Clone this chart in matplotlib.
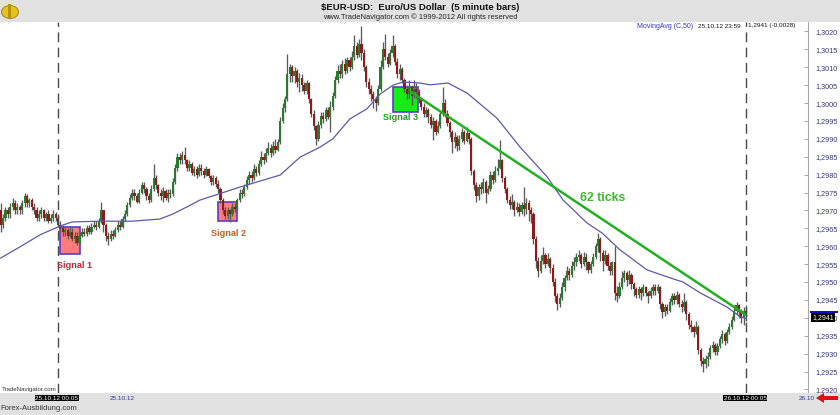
import numpy as np
import matplotlib
matplotlib.use("Agg")
import matplotlib.pyplot as plt
from matplotlib.patches import Rectangle, Polygon, Ellipse

plt.rcParams['font.family'] = ['Liberation Sans', 'DejaVu Sans']

# ---------------- data (prices in pips above BASE) ----------------
BASE = 1.2900
PIP = 0.0001

O = [70,66,68,70,69,71,72,70,71,70,
     72,74,72,73,71,70,68,69,70,68,
     69,67,68,69,68,66,65,64,64.5,63,
     64,62,63,61,63,64,63.5,65,64,65.5,
     66,65.5,67,70,66,63,62,63.5,63,64.5,
     66,65.5,67.5,69,71.5,73.5,75,74,72.5,75,
     77,76,74,73,76,79,77,75,74,75.5,
     73.5,75,74.5,78,82,85,84,85.5,84,82,
     83,80.5,81.5,80,82,81,80,81.5,79.5,78,
     79,77.5,76,73,70,68.5,70,69,71,70.5,
     73,75,74.5,76.5,78.5,80,79,81.5,80.5,83,
     85,84,86,87.5,86,88,87,89,95,98.5,
     101,108,110,107.5,109,106,107,105,103.5,105.5,
     101,97,93.5,90,94,96.5,95.5,98,96,99,
     102,106.5,109,108,111,109,112,110,113,116,
     113.5,116.5,114,110,106,104,102.5,101,100,104,
     110,115,113,111,114,116,111.5,108,109.5,106.5,
     104,102.5,104.5,102,104,103,101,99,97,98,
     96,94,95,92,93.5,97,100,97,94.5,92,
     89,90.5,88,90,92,89.5,91.5,90,81,77,
     74,76.5,76,78,75,76,80,78.5,81,82,
     84,79,76,73,71.5,72.5,70,71,69.5,71.5,
     70.5,72,70,69,62,56,53,56,57.5,55,
     56.5,54,50,46,44,45.5,48.5,51,53,52,
     54.5,55.5,57,57.5,55,57,55.5,53.5,55,57,
     60,62,58,56,57.5,54.5,53,55.5,47,46,
     48.5,51,52.5,50.5,52,49.5,48,46.5,48,47,
     48.5,47,46,47.5,48.5,47.5,48.5,44,41.5,43,
     42,44.5,46,45,46.5,44,43,44.5,41,38,
     37.5,36,37.5,31,28,27,28.5,29,31.5,32.5,
     30.5,32,34,35.5,33.5,36,37.5,39.5,42,43.5,
     41.5,40,42]

C = [66,68,70,69,71,72,70,71,70,72,
     74,72,73,71,70,68,69,70,68,69,
     67,68,69,68,66,65,64,64.5,63,64,
     62,63,61,63,64,63.5,65,64,65.5,66,
     65.5,67,70,66,63,62,63.5,63,64.5,66,
     65.5,67.5,69,71.5,73.5,75,74,72.5,75,77,
     76,74,73,76,79,77,75,74,75.5,73.5,
     75,74.5,78,82,85,84,85.5,84,82,83,
     80.5,81.5,80,82,81,80,81.5,79.5,78,79,
     77.5,76,73,70,68.5,70,69,71,70.5,73,
     75,74.5,76.5,78.5,80,79,81.5,80.5,83,85,
     84,86,87.5,86,88,87,89,95,98.5,101,
     108,110,107.5,109,106,107,105,103.5,105.5,101,
     97,93.5,90,94,96.5,95.5,98,96,99,102,
     106.5,109,108,111,109,112,110,113,116,113.5,
     116.5,114,110,106,104,102.5,101,100,104,110,
     115,113,111,114,116,111.5,108,109.5,106.5,104,
     102.5,104.5,102,104,103,101,99,97,98,96,
     94,95,92,93.5,97,100,97,94.5,92,89,
     90.5,88,90,92,89.5,91.5,90,81,77,74,
     76.5,76,78,75,76,80,78.5,81,82,84,
     79,76,73,71.5,72.5,70,71,69.5,71.5,70.5,
     72,70,69,62,56,53,56,57.5,55,56.5,
     54,50,46,44,45.5,48.5,51,53,52,54.5,
     55.5,57,57.5,55,57,55.5,53.5,55,57,60,
     62,58,56,57.5,54.5,53,55.5,47,46,48.5,
     51,52.5,50.5,52,49.5,48,46.5,48,47,48.5,
     47,46,47.5,48.5,47.5,48.5,44,41.5,43,42,
     44.5,46,45,46.5,44,43,44.5,41,38,37.5,
     36,37.5,31,28,27,28.5,29,31.5,32.5,30.5,
     32,34,35.5,33.5,36,37.5,39.5,42,43.5,41.5,
     40,42,41]

H = [72,69,71,71,72,73.5,73,72,71.5,73,
     75,74.5,73.5,73.5,72,71,70,71,70.5,69.5,
     70,69,70,69.5,69,67,66,65.5,65,65.5,
     65,64,64,64,65,65,66,66,66.5,67,
     67,68,72.4,70,66.5,64,64.5,64.5,65.5,67,
     67,68.5,70,72.5,74.5,76,76,75,76,78,
     78,76.5,75,77,83,80,77.5,76,76.5,76,
     76,76,79,83,86,86,86.5,87.7,84.5,84,
     83.5,82.5,82.5,83,83,82,82.5,82,80,80,
     79.5,78.5,76.5,73.5,71,71,70.5,72,72,73.5,
     76,76,77.5,79.5,81,81,83,82.5,84,86.5,
     86,87.5,89,88.5,89.5,90,90,96,100,102,
     113.7,111,110.5,110,109.5,108.5,108,106,106.5,106,
     101.5,98,94,95,97.5,97.5,99,99,100.5,103,
     107.5,110.5,111,112,112.5,113,113,114.5,119,117,
     118,121.5,115,110.5,107,105,103.5,102,105,112,
     117,119.3,114,115,119,116.5,112.5,111,110,107,
     105,106.5,105,106.5,105.5,104,101.5,100,99,98.5,
     97,96,95.5,95,98,104.5,101,98,95,92.5,
     92,91,91,93,92.5,93.3,92,90.5,81.5,78,
     77.5,78,79,78.5,77,81,81,82.5,84.5,89.7,
     84.5,79.5,76.5,74,74.5,73,72.5,72,72.5,76.5,
     73.5,73,71,69.5,63,57,57.5,59.8,58,58,
     57,55,51,47,47,50,52,54.5,54,56,
     57,58,59,58,58.5,58,56,56,58,61,
     63.7,62.5,59,59,58,55.5,56,60,49,50,
     53,53.5,53,53.4,52.5,50,48.5,49,48.6,49.5,
     49,47.5,48.5,49.5,49.5,49.5,49,44.5,44,44,
     45.5,47,47,47.5,47,45,47,45,41.5,39.4,
     38,39,38,31.5,29,29.5,30.5,32.5,33.5,33,
     33,35,36.6,36,37,38.5,40.5,43.5,44.5,44,
     42.5,43,43.5]

L = [64,65,67,68,68,70,69,69,69,69,
     71,71,71,70,69,67,67,68,67,67,
     66.5,66.5,67,67,65.5,64,63,63,62,62.5,
     61.5,61,60.4,60.5,62.5,63,63,63.5,63.5,65,
     64.5,65,66.5,64,61.5,60.4,61.5,62,62.5,64,
     64.5,65,67,68.5,71,73,73,72,72,74.5,
     75,73,72,72.5,75.5,76,74,73,72.5,73,
     72.5,73.5,74,77.5,81,83,83,83,81,81,
     80,79.5,79,79.5,80,79,79.5,79,77,77,
     76.5,75,72,69,67.5,67.5,66.9,68.5,69.5,70,
     72.5,73.5,74,76,77.5,78,78.5,79.5,80,82.5,
     83,83.5,85.5,85,85.5,86,86.5,88.5,94.5,97.5,
     100.5,106,106,105.5,104.5,103,103.5,102.5,102.5,100,
     96,92.5,88.3,89.5,93,94.5,95,95.5,92,98,
     101.5,105.5,107,107,108,108.5,109,109.5,112,112.5,
     113,112,109,104.5,102.5,100.5,98.5,97.8,99.5,103.5,
     109.5,112,110,110.5,113,110.5,107,106.5,105.5,103,
     101,101.5,99.5,101.5,101.5,100,98,96,96,94.5,
     93,89.7,91,91.5,93,96.5,96,93.5,90.5,86,
     87.5,86.5,87,89,88.5,89,88.5,80,75.7,72.5,
     73,74.5,75,72,74.5,75.5,77.5,78,80,81.5,
     78,75,72,70.5,70.5,68.5,69.5,68.5,69,68.5,
     69,67,66.5,60.5,54,51.5,52.5,55,54,54.5,
     52.5,49,44.5,42.2,43,45,47.5,50.5,50.5,51.5,
     53.5,54.5,56,54,54.5,53.5,52.5,52.5,54.5,56.5,
     58.5,56,53,55,53.5,52,52,45,44.5,45.5,
     48,50,49,49.5,48,46,45.5,45.5,45,46,
     46,44.2,45.5,46.5,46.5,47,42.5,40,40.5,41,
     41.5,43.5,44,44,43,41.5,42,39.5,37,36,
     34.7,35.5,30,26.5,24.9,26,26.5,28.5,30.5,29.5,
     29.5,31.5,33,32.5,33,35.5,37,39,41,40,
     38.5,38,39]

# Moving average (C,50): bar index / value (pips)
MA_IDX = [0, 8, 16.5, 25, 30, 41.6, 55, 66.7, 72, 78, 83.4, 100, 117, 125.3,
          133.7, 139, 146.2, 153.3, 158.8, 164.2, 168.4, 175.5, 179.7, 187.2,
          195.2, 207.7, 217.4, 228.7, 235.4, 245.4, 251.7, 259.2, 270.5, 281.4,
          285.6, 292.7, 304, 309.5, 312]
MA_VAL = [56.7, 59.8, 63.2, 65.7, 66.8, 67.0, 67.0, 67.6, 69.0, 71, 72.9, 76.5,
          79.9, 84.9, 87.7, 90, 95.6, 98.4, 102.5, 105, 105.9, 105.6, 105.1,
          105.6, 102.8, 95.8, 87.7, 79.4, 72.9, 66.5, 63.7, 59, 53.4, 50.9, 50,
          47, 43, 40.3, 39.8]

# trend line (62 ticks)
TREND_IDX = [172, 311.5]
TREND_PRICE = [1.3003, 1.2941]

# signal boxes
SIG_NAMES = ["Signal 1", "Signal 2", "Signal 3"]
SIG_X0 = [24.8, 91.1, 164.1]
SIG_X1 = [33.2, 99.0, 174.8]
SIG_LO = [57.8, 67.0, 97.6]
SIG_HI = [65.5, 72.4, 104.4]

DAY_LINES = [24, 312]
YTICKS = [1.2920 + 0.0005 * k for k in range(21)]
LAST_PRICE = 1.2941

# ---------------- figure ----------------
FW, FH = 840, 415
def fx(px):
    return px / FW
def fy(py):
    return 1 - py / FH

fig = plt.figure(figsize=(8.4, 4.15), dpi=100)
fig.patch.set_facecolor('white')
fig.patches.append(Rectangle((0, fy(22)), 1, 22 / FH, transform=fig.transFigure,
                             facecolor='#e1e1e1', edgecolor='none', zorder=0))
fig.patches.append(Rectangle((0, 0), 1, 22 / FH, transform=fig.transFigure,
                             facecolor='#e1e1e1', edgecolor='none', zorder=0))
# small logo
fig.patches.append(Ellipse((fx(10), fy(12)), 17 / FW, 13 / FH, transform=fig.transFigure,
                           facecolor='#e6c21e', edgecolor='#9a7a10', lw=0.6, zorder=1))
fig.patches.append(Rectangle((fx(8), fy(18)), 3 / FW, 14 / FH, transform=fig.transFigure,
                             facecolor='#b8920e', edgecolor='none', zorder=2))

ax = fig.add_axes([0, 22 / FH, 808 / FW, 371 / FH])
ax.set_facecolor('white')
ax.set_xlim(-0.29, 337.9)
ax.set_ylim(BASE + 19.0 * PIP, BASE + 122.65 * PIP)

o = BASE + np.array(O) * PIP
c = BASE + np.array(C) * PIP
h = BASE + np.array(H) * PIP
l = BASE + np.array(L) * PIP
x = np.arange(len(C))
up = c >= o
bb = np.minimum(o, c)
bh = np.maximum(np.abs(c - o), 0.3 * PIP)

ax.vlines(x, l, h, color='#5a5a5a', lw=0.95, zorder=3)
ax.bar(x[up], bh[up], bottom=bb[up], width=0.9, color='#2a7a2e', linewidth=0, zorder=4)
ax.bar(x[~up], bh[~up], bottom=bb[~up], width=0.9, color='#8e1a1a', linewidth=0, zorder=4)

# signal boxes
fills = ['#ff7c7c', '#ff7c7c', '#14ee14']
for i in range(3):
    ax.add_patch(Rectangle((SIG_X0[i], BASE + SIG_LO[i] * PIP), SIG_X1[i] - SIG_X0[i],
                           (SIG_HI[i] - SIG_LO[i]) * PIP, facecolor=fills[i],
                           edgecolor='#5a3cc8', lw=1.2, zorder=2))

# moving average
ax.plot(MA_IDX, BASE + np.array(MA_VAL) * PIP, color='#5a5aaa', lw=0.9, zorder=5)
# trend line
ax.plot(TREND_IDX, TREND_PRICE, color='#22b022', lw=1.8, zorder=6)

for d in DAY_LINES:
    ax.axvline(d, color='#4a4a4a', lw=1.0, ls=(0, (7, 4)), zorder=6)

ax.set_xticks([])
ax.yaxis.tick_right()
ax.set_yticks(YTICKS)
ax.set_yticklabels([f"{v:.4f}".replace('.', ',') for v in YTICKS])
ax.tick_params(axis='y', direction='in', length=3, width=0.6, colors='#9a9a9a',
               labelcolor='#353575', labelsize=5.2, pad=5)
for s in ['left', 'top', 'bottom']:
    ax.spines[s].set_visible(False)
ax.spines['right'].set_color('#a8a8a8')
ax.spines['right'].set_linewidth(0.8)

# ---------------- texts ----------------
fig.text(fx(420), fy(8), "$EUR-USD:  Euro/US Dollar  (5 minute bars)", ha='center',
         va='center', fontsize=6.8, fontweight='bold', color='#111111')
fig.text(fx(420), fy(17), "www.TradeNavigator.com \u00a9 1999-2012 All rights reserved",
         ha='center', va='center', fontsize=5.4, color='#222222')

fig.text(fx(637), fy(26), "MovingAvg (C,50)", ha='left', va='center', fontsize=5,
         color='#3535c8')
fig.text(fx(698), fy(26), "25.10.12 23:59", ha='left', va='center', fontsize=4.6,
         color='#111111')
fig.text(fx(748), fy(26), "1,2941 (-0,0028)", ha='left', va='center', fontsize=4.6,
         color='#111111')

fig.text(fx(75), fy(265), SIG_NAMES[0], ha='center', va='center', fontsize=6.6,
         fontweight='bold', color='#c0283a')
fig.text(fx(229), fy(233), SIG_NAMES[1], ha='center', va='center', fontsize=6.6,
         fontweight='bold', color='#c4602a')
fig.text(fx(401), fy(118), SIG_NAMES[2], ha='center', va='center', fontsize=6.6,
         fontweight='bold', color='#229a22')
fig.text(fx(603), fy(198), "62 ticks", ha='center', va='center', fontsize=8.8,
         fontweight='bold', color='#3cba2c')

fig.text(fx(2), fy(389), "TradeNavigator.com", ha='left', va='center', fontsize=4.4,
         color='#333333')
fig.text(fx(0), fy(408), "Forex-Ausbildung.com", ha='left', va='center', fontsize=5.5,
         color='#333333')

fig.text(fx(57), fy(398), "25.10.12 00:05", ha='center', va='center', fontsize=4.6,
         color='white', bbox=dict(boxstyle='square,pad=0.15', fc='black', ec='none'))
fig.text(fx(122), fy(398), "25.10.12", ha='center', va='center', fontsize=4.6,
         color='#3535a0')
fig.text(fx(745), fy(398), "26.10.12 00:05", ha='center', va='center', fontsize=4.6,
         color='white', bbox=dict(boxstyle='square,pad=0.15', fc='black', ec='none'))
fig.text(fx(815), fy(398), "26.10", ha='right', va='center', fontsize=4.6,
         color='#3535a0')
arrow = [(816, 398), (824, 393), (824, 396), (838, 396), (838, 400), (824, 400), (824, 403)]
fig.patches.append(Polygon([(fx(a), fy(b)) for a, b in arrow], closed=True,
                           transform=fig.transFigure, facecolor='#e01010',
                           edgecolor='none', zorder=3))

# last price marker (covers the 1,2940 tick label as in the original)
fig.patches.append(Rectangle((fx(810), fy(313)), 28 / FW, 2 / FH, transform=fig.transFigure,
                             facecolor='#1010c0', edgecolor='none', zorder=3))
fig.text(fx(823), fy(317.5), f"{LAST_PRICE:.4f}".replace('.', ','), ha='center',
         va='center', fontsize=5, color='white', zorder=4,
         bbox=dict(boxstyle='square,pad=0.2', fc='black', ec='none'))

fig.savefig("out.png", dpi=100)
